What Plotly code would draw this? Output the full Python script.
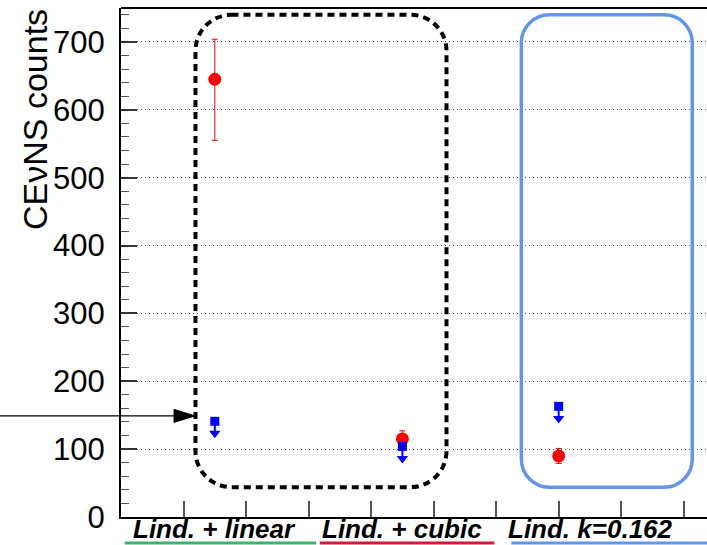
import plotly.graph_objects as go

# ---- data -------------------------------------------------------------
categories = ["Lind. + linear", "Lind. + cubic", "Lind. k=0.162"]
point_x = [0.5, 1.5, 2.333]          # horizontal position of each measurement
measured = [645, 115, 90]             # CEvNS counts (red points)
err_plus = [59, 12, 11]
err_minus = [90, 12, 11]
upper_limit = [141, 104, 163]         # upper limits (blue squares with arrows)
y_ticks = [0, 100, 200, 300, 400, 500, 600, 700]
x_tick_marks = [k / 3 for k in range(1, 10)]
arrow_level = 149                     # level marked by the horizontal arrow

# ---- layout geometry --------------------------------------------------
W, H = 707, 545
ML, MR, MT, MB = 121, 0, 8, 28
PW, PH = W - ML - MR, H - MT - MB
BIN_PX = 187.6
X_RANGE = [0, PW / BIN_PX]
Y_RANGE = [0, 750]
PX_X = BIN_PX                       # pixels per x unit
PX_Y = PH / (Y_RANGE[1] - Y_RANGE[0])  # pixels per y unit


def px_to_paper_x(px):
    return (px - ML) / PW


def val_to_paper_y(v):
    return (v - Y_RANGE[0]) / (Y_RANGE[1] - Y_RANGE[0])


def rounded_rect(x0, x1, y0, y1, r_px):
    rx, ry = r_px / PX_X, r_px / PX_Y
    k = 0.5523
    return (
        f"M{x0 + rx},{y1} L{x1 - rx},{y1} "
        f"C{x1 - rx + k * rx},{y1} {x1},{y1 - ry + k * ry} {x1},{y1 - ry} "
        f"L{x1},{y0 + ry} "
        f"C{x1},{y0 + ry - k * ry} {x1 - rx + k * rx},{y0} {x1 - rx},{y0} "
        f"L{x0 + rx},{y0} "
        f"C{x0 + rx - k * rx},{y0} {x0},{y0 + ry - k * ry} {x0},{y0 + ry} "
        f"L{x0},{y1 - ry} "
        f"C{x0},{y1 - ry + k * ry} {x0 + rx - k * rx},{y1} {x0 + rx},{y1} Z"
    )


FONT = "Liberation Sans, Arial, sans-serif"

fig = go.Figure()

# measured counts with asymmetric errors
fig.add_trace(go.Scatter(
    x=point_x, y=measured, mode="markers",
    marker=dict(symbol="circle", size=13, color="#ff0000"),
    error_y=dict(type="data", symmetric=False, array=err_plus,
                 arrayminus=err_minus, color="#ff0000", thickness=1, width=3),
    showlegend=False, cliponaxis=False,
))

# upper limits: square marker, short stem and arrow head
stem_px = 12
stem = stem_px / PX_Y
fig.add_trace(go.Scatter(
    x=point_x, y=upper_limit, mode="markers",
    marker=dict(symbol="square", size=9, color="#0000ff"),
    error_y=dict(type="data", symmetric=False, array=[0] * len(upper_limit),
                 arrayminus=[stem] * len(upper_limit), color="#0000ff",
                 thickness=2, width=0),
    showlegend=False,
))
fig.add_trace(go.Scatter(
    x=point_x, y=[v - stem for v in upper_limit], mode="markers",
    marker=dict(symbol="triangle-down", size=10, color="#0000ff"),
    showlegend=False,
))

shapes = []
# dashed grouping box around the first two models
shapes.append(dict(
    type="path", xref="x", yref="y",
    path=rounded_rect(0.397, 1.735, 44, 740, 36),
    line=dict(color="black", width=4, dash="7px,5px"),
))
# blue grouping box around the last model
shapes.append(dict(
    type="path", xref="x", yref="y",
    path=rounded_rect(2.134, 3.045, 44, 740, 28),
    line=dict(color="#6495ed", width=3.5),
))
# frame top edge
shapes.append(dict(type="line", xref="paper", yref="paper",
                   x0=0, x1=1, y0=1, y1=1,
                   line=dict(color="black", width=2)))

# horizontal arrow pointing at the first upper limit
ya = val_to_paper_y(arrow_level)
tip = px_to_paper_x(195)
head_len = 21 / PW
head_half = 6.5 / PH
shapes.append(dict(type="line", xref="paper", yref="paper",
                   x0=px_to_paper_x(0), x1=tip - head_len * 0.5, y0=ya, y1=ya,
                   line=dict(color="black", width=1.2)))
shapes.append(dict(type="path", xref="paper", yref="paper",
                   path=f"M{tip},{ya} L{tip - head_len},{ya + head_half} "
                        f"L{tip - head_len},{ya - head_half} Z",
                   fillcolor="black", line=dict(color="black", width=1)))

# coloured underlines beneath the category labels
underline_y = -26 / PH
for (a, b, col) in [(0.02, 1.04, "#3cb371"),
                    (1.06, 1.99, "#dc143c"),
                    (2.08, 3.2, "#6495ed")]:
    shapes.append(dict(type="line", xref="paper", yref="paper",
                       x0=a / X_RANGE[1], x1=b / X_RANGE[1],
                       y0=underline_y, y1=underline_y,
                       line=dict(color=col, width=3)))

annotations = []
for i, name in enumerate(categories):
    annotations.append(dict(
        x=(i + 0.5) / X_RANGE[1], y=-12 / PH, xref="paper", yref="paper",
        text=name, showarrow=False, xanchor="center", yanchor="middle",
        font=dict(family=FONT, size=26, color="black",
                  weight="bold", style="italic"),
    ))
annotations.append(dict(
    x=px_to_paper_x(35), y=(H - MB - 120) / PH, xref="paper", yref="paper",
    text="CEνNS counts", showarrow=False, textangle=-90,
    xanchor="center", yanchor="middle",
    font=dict(family=FONT, size=34, color="black"),
))

fig.update_layout(
    width=W, height=H,
    margin=dict(l=ML, r=MR, t=MT, b=MB, pad=0),
    paper_bgcolor="white", plot_bgcolor="white",
    shapes=shapes, annotations=annotations,
    xaxis=dict(
        range=X_RANGE, showgrid=False, zeroline=False,
        tickmode="array", tickvals=x_tick_marks, showticklabels=False,
        ticks="inside", ticklen=16, tickwidth=1.5, tickcolor="#555",
        showline=True, linecolor="black", linewidth=2,
    ),
    yaxis=dict(
        range=Y_RANGE, zeroline=False,
        tickmode="array", tickvals=y_ticks,
        ticks="inside", ticklen=16, tickwidth=1.5, tickcolor="#333",
        minor=dict(dtick=20, ticks="inside", ticklen=8, tickwidth=1.2,
                   tickcolor="#555", showgrid=False),
        showgrid=True, gridcolor="#555", griddash="1px,3px", gridwidth=1,
        showline=True, linecolor="black", linewidth=2,
        tickfont=dict(family=FONT, size=31, color="black"),
        ticklabelstandoff=8,
    ),
)

fig.write_html("out.html")
